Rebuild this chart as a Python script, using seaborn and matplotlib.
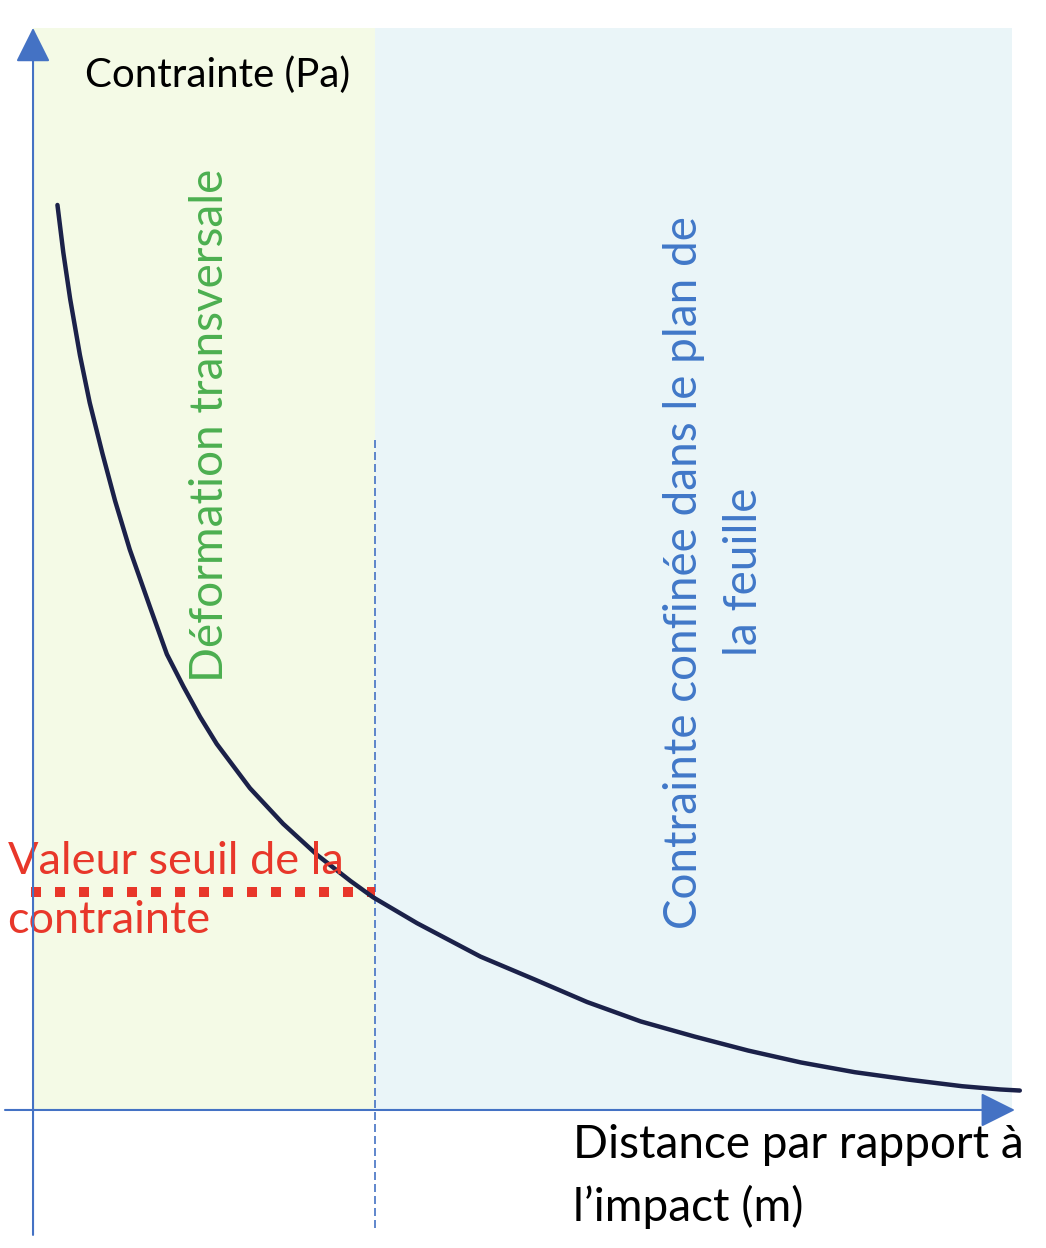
import numpy as np
import pandas as pd
import matplotlib
matplotlib.use('Agg')
import matplotlib.pyplot as plt
import seaborn as sns

# Schematic values (arbitrary units): stress vs distance from impact
distance = [0.25, 0.31, 0.38, 0.48, 0.58, 0.71, 0.84, 0.99, 1.20, 1.37, 1.54,
            1.71, 1.88, 2.22, 2.56, 2.91, 3.25, 3.48, 3.93, 4.58, 5.13, 5.67,
            6.22, 6.77, 7.32, 7.86, 8.41, 8.97, 9.51, 9.90, 10.10]
stress = [8.38, 7.94, 7.51, 6.99, 6.55, 6.08, 5.64, 5.19, 4.65, 4.22, 3.92,
          3.64, 3.39, 2.98, 2.65, 2.36, 2.12, 1.97, 1.73, 1.42, 1.21, 1.00,
          0.82, 0.68, 0.55, 0.44, 0.35, 0.28, 0.22, 0.19, 0.18]
threshold = 2.02
limit_distance = 3.5
x_end = 10.02
y_end = 10.02

y_label = 'Contrainte (Pa)'
x_label = 'Distance par rapport à\nl\u2019impact (m)'
zone1_label = 'Déformation transversale'
zone2_label = 'Contrainte confinée dans le plan de\nla feuille'
seuil_label = 'Valeur seuil de la\ncontrainte'

df = pd.DataFrame({'distance': distance, 'stress': stress})

sns.set_style('white')
plt.rcParams['font.family'] = ['Lato', 'DejaVu Sans']

fig = plt.figure(figsize=(10.46, 12.48), dpi=100)
ax = fig.add_axes([0, 0, 1, 1])
ax.set_xlim(-0.338, 10.368)
ax.set_ylim(-1.278, 10.278)
ax.axis('off')

axis_blue = '#4472C4'

# background zones
ax.fill_between([0, limit_distance], 0, y_end, color='#F4FAE6', lw=0, zorder=0)
ax.fill_between([limit_distance, x_end], 0, y_end, color='#EAF5F8', lw=0, zorder=0)

# dashed limit
ax.plot([limit_distance, limit_distance], [6.2, -1.11], color=axis_blue,
        lw=1.2, dashes=(4.8, 2.4), zorder=1)

# threshold dotted line
ax.plot([-0.02, limit_distance], [threshold, threshold], color='#E8372A',
        lw=7.2, dashes=(1, 1.4), solid_capstyle='butt', dash_capstyle='butt', zorder=2)

# stress curve
sns.lineplot(data=df, x='distance', y='stress', ax=ax, color='#1B2149',
             lw=3.2, zorder=3, legend=False, solid_joinstyle='round',
             solid_capstyle='round')

# axes arrows
arrow = dict(arrowstyle='-|>,head_length=0.4,head_width=0.2', mutation_scale=54,
             color=axis_blue, lw=1.5, shrinkA=0, shrinkB=0)
ax.annotate('', xy=(0, 10.02), xytext=(0, -1.157), arrowprops=arrow, zorder=4)
ax.annotate('', xy=(10.05, 0), xytext=(-0.287, 0), arrowprops=arrow, zorder=4)

# texts
ax.text(0.53, 9.58, y_label, fontsize=29, color='black', ha='left', va='center')
ax.text(1.81, 6.34, zone1_label, fontsize=33, color='#4CAF50', rotation=90,
        ha='center', va='center')
ax.text(6.97, 4.98, zone2_label, fontsize=33, color='#4178C8', rotation=90,
        ha='center', va='center', multialignment='center', linespacing=1.52)
ax.text(-0.26, 2.03, seuil_label, fontsize=32.5, color='#E8372A', ha='left',
        va='center', linespacing=1.55)
ax.text(5.53, -0.62, x_label, fontsize=33, color='black', ha='left',
        va='center', linespacing=1.52)

fig.savefig('out.png', dpi=100)
